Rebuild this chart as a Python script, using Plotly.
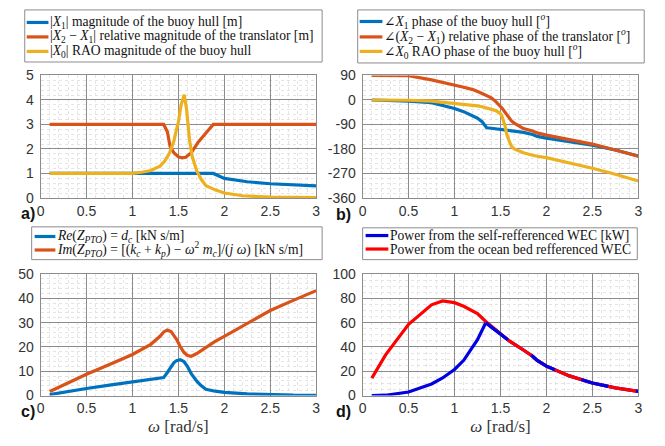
import plotly.graph_objects as go

# ---------------- data ----------------
# panel a) magnitudes
w_a_x1 = [0.1, 0.5, 1.0, 1.5, 1.88, 2.0, 2.25, 2.5, 2.75, 3.0]
a_x1 = [1.0, 1.0, 1.0, 1.0, 1.0, 0.80, 0.66, 0.58, 0.53, 0.49]
w_a_x21 = [0.1, 0.5, 1.0, 1.34, 1.38, 1.41, 1.45, 1.5, 1.54, 1.58, 1.64, 1.72, 1.8, 1.88, 2.0, 2.5, 3.0]
a_x21 = [3.0, 3.0, 3.0, 3.0, 2.7, 2.1, 1.85, 1.68, 1.64, 1.66, 1.85, 2.3, 2.65, 3.0, 3.0, 3.0, 3.0]
w_a_x0 = [0.1, 0.5, 1.0, 1.1, 1.2, 1.3, 1.35, 1.4, 1.45, 1.48, 1.5, 1.53, 1.564, 1.59, 1.62, 1.65, 1.7, 1.75,
          1.8, 1.9, 2.0, 2.2, 2.5, 3.0]
a_x0 = [1.0, 1.0, 1.0, 1.05, 1.12, 1.3, 1.5, 1.8, 2.3, 2.8, 3.1, 3.8, 4.21, 3.6, 2.4, 1.7, 1.1, 0.75,
        0.5, 0.33, 0.2, 0.09, 0.03, 0.01]

# panel b) phases [deg]
w_b = [0.1, 0.3, 0.5, 0.75, 1.0, 1.1, 1.2, 1.25, 1.3, 1.35, 1.4, 1.45, 1.5, 1.52, 1.55, 1.57, 1.6, 1.62, 1.65,
       1.7, 1.75, 1.85, 1.9, 2.0, 2.25, 2.5, 2.75, 3.0]
b_x1 = [0, -1, -4, -10, -31, -43, -60, -67, -80, -102, -104, -106, -108, -109, -110, -111, -113, -114, -115,
        -117, -119, -127, -134, -140, -152, -166, -184, -206]
b_x21 = [90, 90, 89, 74, 56, 47, 38, 32, 24, 16, 8, -6, -22, -31, -45, -54, -69, -77, -85,
         -96, -105, -114, -121, -129, -146, -162, -184, -207]
b_x0 = [0, 0, -1, -4, -12, -15, -19, -22, -25, -29, -33, -39, -50, -63, -95, -128, -155, -170, -180,
        -188, -194, -203, -207, -212, -231, -251, -273, -298]
b_tickvals = [-360, -270, -180, -90, 0, 90]
b_ticktext = ["-360", "-270", "-180", "-90", "0", "90"]

# panel c) PTO impedance [kN s/m]
w_c = [0.1, 0.25, 0.5, 0.75, 1.0, 1.2, 1.3, 1.34, 1.38, 1.42, 1.45, 1.48, 1.52, 1.56, 1.6, 1.64, 1.7, 1.75,
       1.8, 1.9, 2.0, 2.25, 2.5, 2.75, 3.0]
c_re = [0.4, 1.4, 2.9, 4.3, 5.7, 6.7, 7.2, 7.4, 9.5, 12.0, 13.5, 14.4, 14.8, 14.0, 11.9, 9.0, 5.9, 4.0,
        2.6, 1.8, 1.3, 0.7, 0.3, 0.15, 0.1]
c_im = [1.7, 4.5, 8.8, 12.8, 16.9, 21.1, 24.4, 26.2, 27.0, 26.4, 25.0, 23.2, 20.2, 17.8, 16.5, 16.2, 17.3, 18.5,
        20.0, 22.3, 24.4, 29.8, 35.0, 39.2, 43.2]

# panel d) power [kW]
w_d = [0.1, 0.25, 0.5, 0.75, 0.87, 1.0, 1.1, 1.2, 1.25, 1.34, 1.5, 1.6, 1.75, 1.85, 1.9, 2.0, 2.25, 2.5,
       2.75, 3.0]
d_self = [0.0, 0.3, 2.9, 9.6, 14.5, 21.5, 29.0, 40.0, 46.0, 60.0, 50.8, 44.8, 37.5, 32.4, 29.0, 24.2, 16.2, 10.4,
          6.4, 3.5]
d_bed = [14.4, 33.5, 58.7, 74.7, 77.9, 76.5, 73.5, 69.5, 67.5, 61.0, 50.8, 44.8, 37.5, 32.4, 29.0, 24.2, 16.2, 10.4,
         6.4, 3.5]
d_overlap_start = 1.34

# legend texts
leg_a = ["|<i>X</i><sub>1</sub>| magnitude of the buoy hull [m]",
         "|<i>X</i><sub>2</sub> − <i>X</i><sub>1</sub>| relative magnitude of the translator [m]",
         "|<i>X</i><sub>0</sub>| RAO magnitude of the buoy hull"]
leg_b = ["∠<i>X</i><sub>1</sub> phase of the buoy hull [<sup><i>o</i></sup>]",
         "∠(<i>X</i><sub>2</sub> − <i>X</i><sub>1</sub>) relative phase of the translator [<sup><i>o</i></sup>]",
         "∠<i>X</i><sub>0</sub> RAO phase of the buoy hull [<sup><i>o</i></sup>]"]
leg_c = ["<i>Re</i>(<i>Z<sub>PTO</sub></i>) = <i>d<sub>c</sub></i> [kN s/m]",
         "<i>Im</i>(<i>Z<sub>PTO</sub></i>) = [(<i>k<sub>c</sub></i> + <i>k<sub>p</sub></i>) − <i>ω</i><sup>2</sup> <i>m<sub>c</sub></i>]/(<i>j ω</i>) [kN s/m]"]
leg_d = ["Power from the self-refferenced WEC [kW]",
         "Power from the ocean bed refferenced WEC"]

# ---------------- style ----------------
BLUE, ORANGE, YELLOW = "#0072BD", "#D95319", "#EDB120"
PBLUE, PRED = "#0000E0", "#FF0000"
SERIF = "Liberation Serif, DejaVu Serif, serif"
SANS = "Liberation Sans, Arial, sans-serif"
LW = 3.2
W, H = 665, 446


def px_x(a, b):
    return [a / W, b / W]


def px_y(top, bottom):
    return [1 - bottom / H, 1 - top / H]


fig = go.Figure()


def line(x, y, color, name, xa, ya, dash=None):
    fig.add_trace(go.Scatter(x=x, y=y, mode="lines", name=name,
                             line=dict(color=color, width=LW, dash=dash),
                             xaxis=xa, yaxis=ya, showlegend=False, hoverinfo="skip"))


line(w_a_x1, a_x1, BLUE, leg_a[0], "x", "y")
line(w_a_x21, a_x21, ORANGE, leg_a[1], "x", "y")
line(w_a_x0, a_x0, YELLOW, leg_a[2], "x", "y")

line(w_b, b_x1, BLUE, leg_b[0], "x2", "y2")
line(w_b, b_x21, ORANGE, leg_b[1], "x2", "y2")
line(w_b, b_x0, YELLOW, leg_b[2], "x2", "y2")

line(w_c, c_re, BLUE, leg_c[0], "x3", "y3")
line(w_c, c_im, ORANGE, leg_c[1], "x3", "y3")

line(w_d, d_self, PBLUE, leg_d[0], "x4", "y4")
line(w_d, d_bed, PRED, leg_d[1], "x4", "y4")
ov_x = [w for w in w_d if w >= d_overlap_start]
ov_y = [v for w, v in zip(w_d, d_self) if w >= d_overlap_start]
line(ov_x, ov_y, PBLUE, "overlap", "x4", "y4", dash="28px,28px")

GRID = "#8c8c8c"
MINOR = "#e4e4e4"
TICKFONT = dict(family=SANS, size=14, color="#333333")


def xaxis(domain, anchor, title=None):
    d = dict(domain=domain, anchor=anchor, range=[0, 3], dtick=0.5, tick0=0,
             showgrid=True, gridcolor=GRID, gridwidth=1,
             showline=True, linecolor=GRID, linewidth=1, mirror=True,
             zeroline=False, ticks="", tickfont=TICKFONT,
             minor=dict(dtick=0.1, showgrid=True, gridcolor=MINOR, griddash="dot", gridwidth=1),
             fixedrange=True)
    if title:
        d["title"] = dict(text=title, font=dict(family=SERIF, size=17, color="#333333"), standoff=4)
    return d


def yaxis(domain, anchor, rng, dt, mdt, **kw):
    d = dict(domain=domain, anchor=anchor, range=rng, dtick=dt, tick0=rng[0],
             showgrid=True, gridcolor=GRID, gridwidth=1,
             showline=True, linecolor=GRID, linewidth=1, mirror=True,
             zeroline=False, ticks="", tickfont=TICKFONT,
             minor=dict(dtick=mdt, showgrid=True, gridcolor=MINOR, griddash="dot", gridwidth=1),
             ticklabelstandoff=3, fixedrange=True)
    d.update(kw)
    return d


top_row = px_y(70, 197)
bot_row = px_y(276, 402)
left_col = px_x(37, 316)
right_col = px_x(363, 642)

fig.update_layout(
    width=W, height=H, margin=dict(l=0, r=0, t=0, b=0),
    paper_bgcolor="white", plot_bgcolor="white", showlegend=False,
    xaxis=xaxis(left_col, "y"),
    yaxis=yaxis(top_row, "x", [0, 5], 1, 0.2),
    xaxis2=xaxis(right_col, "y2"),
    yaxis2=yaxis(top_row, "x2", [-360, 90], 90, 18, tickmode="array",
                 tickvals=b_tickvals, ticktext=b_ticktext),
    xaxis3=xaxis(left_col, "y3", "<i>ω</i> [rad/s]"),
    yaxis3=yaxis(bot_row, "x3", [0, 50], 10, 2),
    xaxis4=xaxis(right_col, "y4", "<i>ω</i> [rad/s]"),
    yaxis4=yaxis(bot_row, "x4", [0, 100], 20, 5),
)

LEGFONT = 13.6


# ---------------- hand-built legend boxes (MATLAB style, compact) ----------------
def legend_box(x0, y0, x1, y1, entries, sample_x0, sample_x1, rows_y):
    fig.add_shape(type="rect", xref="paper", yref="paper",
                  x0=x0 / W, x1=x1 / W, y0=1 - y1 / H, y1=1 - y0 / H,
                  line=dict(color="#8c8c8c", width=1), fillcolor="white", layer="above")
    for (txt, col), ry in zip(entries, rows_y):
        fig.add_shape(type="line", xref="paper", yref="paper",
                      x0=sample_x0 / W, x1=sample_x1 / W, y0=1 - ry / H, y1=1 - ry / H,
                      line=dict(color=col, width=LW), layer="above")
        fig.add_annotation(text=txt, x=(sample_x1 + 1) / W, y=1 - ry / H, xref="paper", yref="paper",
                           showarrow=False, xanchor="left", yanchor="middle", borderpad=0,
                           font=dict(family=SERIF, size=LEGFONT, color="#111111"))


legend_box(21, 2, 322, 56, list(zip(leg_a, [BLUE, ORANGE, YELLOW])), 23, 45, [15, 30, 45])
legend_box(358, 2, 648, 57, list(zip(leg_b, [BLUE, ORANGE, YELLOW])), 360, 383, [14, 30, 45])
legend_box(28, 227, 322, 261, list(zip(leg_c, [BLUE, ORANGE])), 31, 52, [237, 251])
legend_box(363, 228, 641, 261, list(zip(leg_d, [PBLUE, PRED])), 366, 389, [236, 250])

for txt, x, y in [("a)", 24, 213), ("b)", 344, 214), ("c)", 24, 419), ("d)", 344, 419)]:
    fig.add_annotation(text="<b>" + txt + "</b>", x=x / W, y=1 - y / H, xref="paper", yref="paper",
                       showarrow=False, xanchor="center", yanchor="middle",
                       font=dict(family=SANS, size=16, color="#111111"))

fig.write_html("out.html")
